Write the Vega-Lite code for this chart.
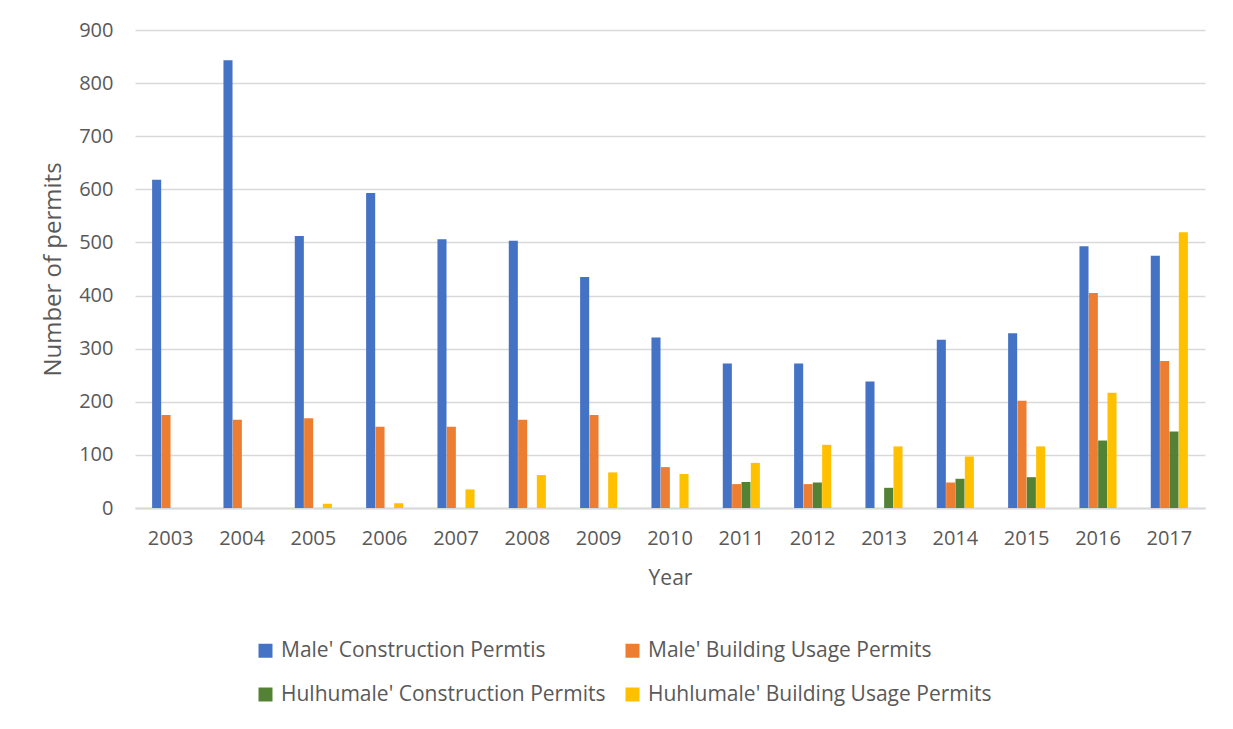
{
  "$schema": "https://vega.github.io/schema/vega-lite/v6.json",
  "width": 1070,
  "height": 478,
  "autosize": {"type": "none"},
  "padding": {"left": 135, "top": 30, "right": 28, "bottom": 221},
  "background": "white",
  "config": {
    "font": "Open Sans",
    "view": {"stroke": null}
  },
  "data": {
    "values": [
      {"year": "2003", "series": "Male' Construction Permtis", "value": 618},
      {"year": "2003", "series": "Male' Building Usage Permits", "value": 175},
      {"year": "2004", "series": "Male' Construction Permtis", "value": 843},
      {"year": "2004", "series": "Male' Building Usage Permits", "value": 166},
      {"year": "2005", "series": "Male' Construction Permtis", "value": 512},
      {"year": "2005", "series": "Male' Building Usage Permits", "value": 169},
      {"year": "2005", "series": "Huhlumale' Building Usage Permits", "value": 8},
      {"year": "2006", "series": "Male' Construction Permtis", "value": 593},
      {"year": "2006", "series": "Male' Building Usage Permits", "value": 153},
      {"year": "2006", "series": "Huhlumale' Building Usage Permits", "value": 9},
      {"year": "2007", "series": "Male' Construction Permtis", "value": 506},
      {"year": "2007", "series": "Male' Building Usage Permits", "value": 153},
      {"year": "2007", "series": "Huhlumale' Building Usage Permits", "value": 35},
      {"year": "2008", "series": "Male' Construction Permtis", "value": 503},
      {"year": "2008", "series": "Male' Building Usage Permits", "value": 166},
      {"year": "2008", "series": "Huhlumale' Building Usage Permits", "value": 62},
      {"year": "2009", "series": "Male' Construction Permtis", "value": 435},
      {"year": "2009", "series": "Male' Building Usage Permits", "value": 175},
      {"year": "2009", "series": "Huhlumale' Building Usage Permits", "value": 67},
      {"year": "2010", "series": "Male' Construction Permtis", "value": 321},
      {"year": "2010", "series": "Male' Building Usage Permits", "value": 77},
      {"year": "2010", "series": "Huhlumale' Building Usage Permits", "value": 64},
      {"year": "2011", "series": "Male' Construction Permtis", "value": 272},
      {"year": "2011", "series": "Male' Building Usage Permits", "value": 45},
      {"year": "2011", "series": "Hulhumale' Construction Permits", "value": 49},
      {"year": "2011", "series": "Huhlumale' Building Usage Permits", "value": 85},
      {"year": "2012", "series": "Male' Construction Permtis", "value": 272},
      {"year": "2012", "series": "Male' Building Usage Permits", "value": 45},
      {"year": "2012", "series": "Hulhumale' Construction Permits", "value": 48},
      {"year": "2012", "series": "Huhlumale' Building Usage Permits", "value": 119},
      {"year": "2013", "series": "Male' Construction Permtis", "value": 238},
      {"year": "2013", "series": "Hulhumale' Construction Permits", "value": 38},
      {"year": "2013", "series": "Huhlumale' Building Usage Permits", "value": 116},
      {"year": "2014", "series": "Male' Construction Permtis", "value": 317},
      {"year": "2014", "series": "Male' Building Usage Permits", "value": 48},
      {"year": "2014", "series": "Hulhumale' Construction Permits", "value": 55},
      {"year": "2014", "series": "Huhlumale' Building Usage Permits", "value": 97},
      {"year": "2015", "series": "Male' Construction Permtis", "value": 329},
      {"year": "2015", "series": "Male' Building Usage Permits", "value": 202},
      {"year": "2015", "series": "Hulhumale' Construction Permits", "value": 58},
      {"year": "2015", "series": "Huhlumale' Building Usage Permits", "value": 116},
      {"year": "2016", "series": "Male' Construction Permtis", "value": 493},
      {"year": "2016", "series": "Male' Building Usage Permits", "value": 405},
      {"year": "2016", "series": "Hulhumale' Construction Permits", "value": 127},
      {"year": "2016", "series": "Huhlumale' Building Usage Permits", "value": 217},
      {"year": "2017", "series": "Male' Construction Permtis", "value": 475},
      {"year": "2017", "series": "Male' Building Usage Permits", "value": 277},
      {"year": "2017", "series": "Hulhumale' Construction Permits", "value": 144},
      {"year": "2017", "series": "Huhlumale' Building Usage Permits", "value": 519}
    ]
  },
  "mark": {"type": "bar"},
  "encoding": {
    "x": {
      "field": "year",
      "type": "nominal",
      "title": "Year",
      "scale": {"paddingInner": 0.48, "paddingOuter": 0.24},
      "axis": {
        "labelAngle": 0,
        "labelFontSize": 20,
        "labelColor": "#595959",
        "labelPadding": 20,
        "ticks": false,
        "domainColor": "#d9d9d9",
        "domainWidth": 2,
        "titleFontSize": 21,
        "titleFontWeight": "normal",
        "titleColor": "#595959",
        "titlePadding": 19
      }
    },
    "xOffset": {
      "field": "series",
      "type": "nominal",
      "scale": {
        "domain": ["Male' Construction Permtis", "Male' Building Usage Permits", "Hulhumale' Construction Permits", "Huhlumale' Building Usage Permits"],
        "paddingInner": 0.03
      }
    },
    "y": {
      "field": "value",
      "type": "quantitative",
      "title": "Number of permits",
      "scale": {"domain": [0, 900]},
      "axis": {
        "values": [0, 100, 200, 300, 400, 500, 600, 700, 800, 900],
        "labelFontSize": 20,
        "labelColor": "#595959",
        "labelPadding": 22,
        "ticks": false,
        "domain": false,
        "gridColor": "#d9d9d9",
        "gridWidth": 1.5,
        "titleFontSize": 24,
        "titleFontWeight": "normal",
        "titleColor": "#595959",
        "titlePadding": 13
      }
    },
    "color": {
      "field": "series",
      "type": "nominal",
      "title": null,
      "scale": {
        "domain": ["Male' Construction Permtis", "Male' Building Usage Permits", "Hulhumale' Construction Permits", "Huhlumale' Building Usage Permits"],
        "range": ["#4472C4", "#ED7D31", "#548235", "#FFC000"]
      },
      "legend": {
        "orient": "none",
        "direction": "horizontal",
        "padding": 0,
        "legendX": 120,
        "legendY": 610,
        "columns": 2,
        "columnPadding": 16,
        "rowPadding": 22,
        "symbolType": "square",
        "symbolSize": 196,
        "symbolStrokeWidth": 0,
        "labelFontSize": 21,
        "labelColor": "#595959",
        "labelOffset": 5,
        "labelLimit": 450
      }
    }
  }
}
